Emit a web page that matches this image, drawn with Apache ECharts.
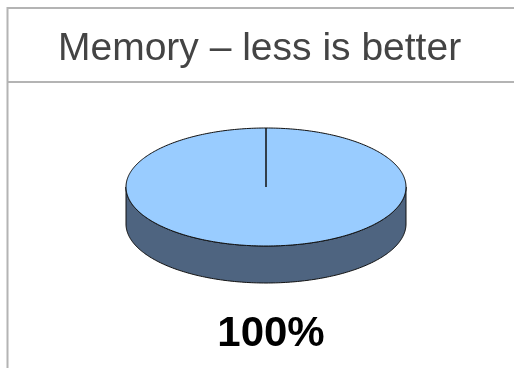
<!DOCTYPE html>
<html>
<head>
<meta charset="utf-8">
<script src="https://cdn.jsdelivr.net/npm/echarts@6/dist/echarts.min.js"></script>
<style>
  html, body { margin: 0; padding: 0; background: #fff; }
  #chart { width: 514px; height: 368px; }
</style>
</head>
<body>
<div id="chart"></div>
<script>
// Chart data
var titleText = 'Memory – less is better';
var categories = ['Memory'];
var values = [100];

// Slice colours: top face and side wall
var topColors = ['#99CCFF'];
var sideColors = ['#4E6480'];

var total = values.reduce(function (a, b) { return a + b; }, 0);
var startAngles = [];
(function () {
  var acc = 0;
  for (var i = 0; i < values.length; i++) {
    startAngles.push(acc / total * 360);
    acc += values[i];
  }
})();

// Geometry of the tilted pie
var CX = 266, CY = 187, RX = 140, RY = 59, DEPTH = 37;

function pt(deg, dy) {
  var r = deg * Math.PI / 180;
  return [CX + RX * Math.sin(r), CY - RY * Math.cos(r) + (dy || 0)];
}

function arcPoints(a0, a1, dy) {
  var pts = [];
  var n = Math.max(2, Math.ceil(Math.abs(a1 - a0)));
  for (var k = 0; k <= n; k++) {
    pts.push(pt(a0 + (a1 - a0) * k / n, dy));
  }
  return pts;
}

function renderSlice(params, api) {
  var i = params.dataIndex;
  var v = api.value(1);
  var a0 = startAngles[i];
  var a1 = a0 + v / total * 360;
  var children = [];

  // Side wall: only the part of the arc facing the viewer (90°..270°)
  var s = Math.max(a0, 90), e = Math.min(a1, 270);
  if (e > s) {
    var top = arcPoints(s, e, 0);
    var bottom = arcPoints(e, s, DEPTH);
    children.push({
      type: 'polygon',
      shape: { points: top.concat(bottom) },
      style: { fill: sideColors[i % sideColors.length], stroke: '#111', lineWidth: 1 }
    });
  }

  // Top face
  var face = [[CX, CY]].concat(arcPoints(a0, a1, 0));
  children.push({
    type: 'polygon',
    shape: { points: face },
    style: { fill: topColors[i % topColors.length], stroke: '#111', lineWidth: 1 }
  });

  // Percentage label under the pie
  children.push({
    type: 'text',
    x: 271,
    y: 334,
    style: {
      text: Math.round(v / total * 100) + '%',
      fontFamily: 'Liberation Sans, Arial, sans-serif',
      fontWeight: 'bold',
      fontSize: 42,
      fill: '#000',
      align: 'center',
      verticalAlign: 'middle'
    }
  });

  return { type: 'group', children: children };
}

var chart = echarts.init(document.getElementById('chart'), null, { renderer: 'canvas' });

chart.setOption({
  animation: false,
  backgroundColor: '#fff',
  title: {
    text: titleText,
    left: 53,
    top: 25,
    textStyle: {
      fontFamily: 'Liberation Sans, Arial, sans-serif',
      fontWeight: 'normal',
      fontSize: 39,
      color: '#444'
    }
  },
  graphic: [
    { type: 'line', shape: { x1: 7, y1: 8, x2: 514, y2: 8 }, style: { stroke: '#b4b4b4', lineWidth: 2 } },
    { type: 'line', shape: { x1: 7, y1: 82, x2: 514, y2: 82 }, style: { stroke: '#b4b4b4', lineWidth: 2 } },
    { type: 'line', shape: { x1: 7.5, y1: 7, x2: 7.5, y2: 368 }, style: { stroke: '#b4b4b4', lineWidth: 2 } }
  ],
  series: [{
    type: 'custom',
    coordinateSystem: 'none',
    renderItem: renderSlice,
    data: categories.map(function (c, i) { return [c, values[i]]; })
  }]
});
</script>
</body>
</html>
